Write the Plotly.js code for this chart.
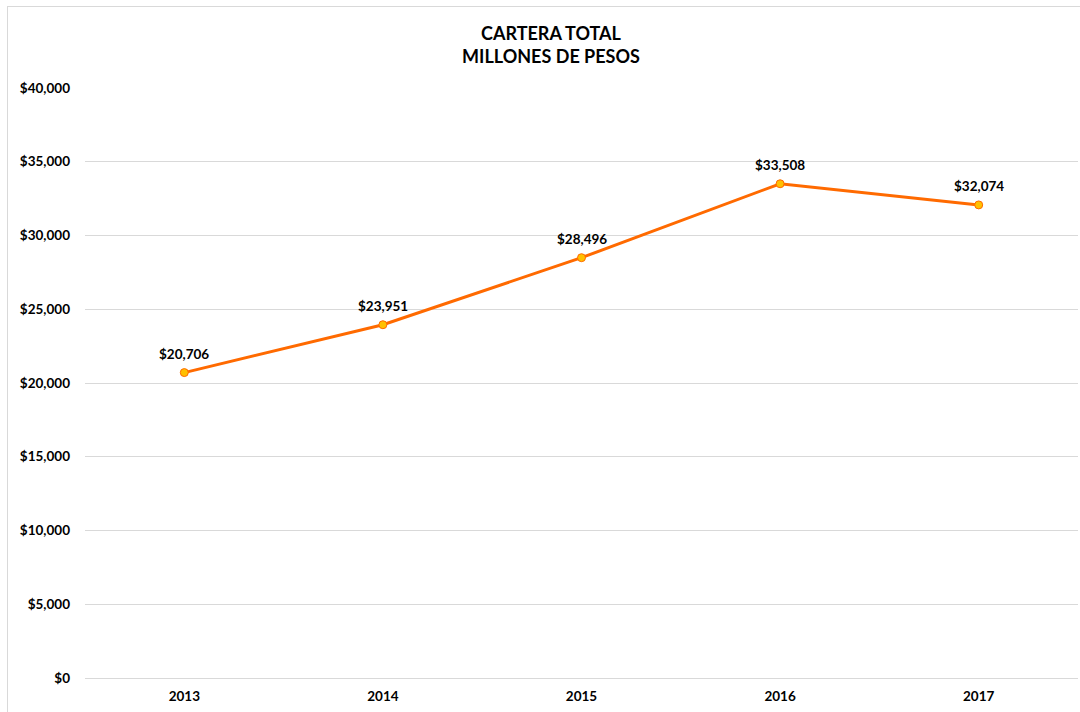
<!DOCTYPE html>
<html><head><meta charset="utf-8">
<script src="https://cdn.plot.ly/plotly-3.0.1.min.js"></script>
<style>
html,body{margin:0;padding:0;background:#fff;overflow:hidden;}
#chart{position:absolute;left:0;top:0;width:1080px;height:712px;}
#frame{position:absolute;left:7px;top:6px;width:1100px;height:720px;border:1px solid #d9d9d9;pointer-events:none;}
</style></head>
<body>
<div id="chart"></div>
<div id="frame"></div>
<script>
const years = ['2013','2014','2015','2016','2017'];
const cartera = [20706, 23951, 28496, 33508, 32074];
const titleLines = ['CARTERA TOTAL', 'MILLONES DE PESOS'];

const font = 'Lato, "Open Sans", sans-serif';
const fmt = v => '$' + v.toLocaleString('en-US');

const trace = {
  x: years, y: cartera, type: 'scatter', mode: 'lines+markers',
  line: {color: '#FF6A00', width: 3},
  marker: {size: 8, color: '#FFC000', line: {color: '#FF6A00', width: 1}},
  hoverinfo: 'skip'
};

const annotations = years.map((yr, i) => ({
  x: i, y: cartera[i], xref: 'x', yref: 'y', text: '<b>' + fmt(cartera[i]) + '</b>',
  showarrow: false, yshift: 19, font: {family: font, size: 13.5, color: '#000'}
}));

const layout = {
  width: 1080, height: 712,
  margin: {l: 85, r: 2, t: 88, b: 34},
  paper_bgcolor: '#fff', plot_bgcolor: '#fff',
  showlegend: false,
  title: {text: '<b>' + titleLines.join('<br>') + '</b>', x: 551/1080, xref: 'container', xanchor: 'center',
          y: 1 - 40/712, yref: 'container', yanchor: 'middle',
          font: {family: font, size: 18, color: '#000', lineposition: 'none'}},
  xaxis: {type: 'category', range: [-0.5, 4.5], showgrid: false, zeroline: false, showline: false,
          ticks: '', tickfont: {family: font, size: 13.5, color: '#000'}, ticklabelstandoff: 8,
          tickprefix: '<b>', ticksuffix: '</b>'},
  yaxis: {range: [0, 40000], dtick: 5000, tick0: 0, tickprefix: '<b>$', ticksuffix: '</b>', tickformat: ',d',
          showgrid: true, gridcolor: '#d9d9d9', gridwidth: 1, zeroline: true, zerolinecolor: '#d9d9d9', zerolinewidth: 1,
          showline: false, ticks: '', tickfont: {family: font, size: 13.5, color: '#000'}, ticklabelstandoff: 14},
  annotations: annotations
};

Plotly.newPlot('chart', [trace], layout, {displayModeBar: false, staticPlot: true});
</script>
</body></html>
